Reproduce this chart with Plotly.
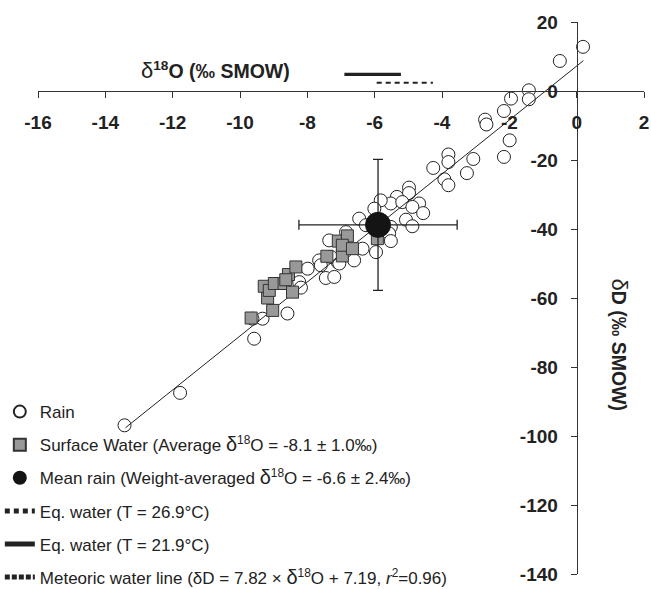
import plotly.graph_objects as go

# ---------------- data ----------------
rain_x = [0.19, -0.50, -1.42, -1.42, -1.95, -2.16, -2.72, -2.68, -1.99, -2.16,
          -3.07, -3.81, -3.81, -4.26, -3.26, -3.93, -3.81, -4.98, -4.98, -5.34,
          -5.52, -5.82, -5.18, -4.68, -4.88, -4.56, -5.07, -4.88, -6.01, -6.46,
          -6.26, -5.52, -5.57, -5.52, -5.96, -6.36, -6.61, -6.85, -7.10, -7.30,
          -7.65, -7.60, -7.45, -7.20, -7.99, -8.24, -8.19, -8.59, -9.33, -9.63,
          -9.58, -11.78, -13.43, -7.35, -7.05]
rain_y = [12.8, 8.7, 0.2, -2.4, -2.2, -5.8, -8.3, -9.7, -14.3, -19.1,
          -19.7, -18.4, -20.6, -22.3, -23.8, -25.6, -27.3, -28.0, -29.6, -30.7,
          -32.6, -31.7, -32.2, -32.6, -33.6, -35.4, -37.3, -39.2, -34.1, -37.0,
          -38.9, -39.4, -41.3, -43.5, -46.7, -45.7, -49.1, -40.9, -49.6, -48.1,
          -49.1, -50.5, -54.2, -53.9, -51.5, -55.4, -57.0, -64.5, -66.0, -66.0,
          -71.8, -87.5, -96.9, -43.3, -50.0]

surf_x = [-9.67, -9.03, -9.18, -9.28, -9.13, -8.98, -8.69, -8.44, -8.56, -8.34,
          -8.64, -7.42, -6.96, -7.08, -6.81, -6.96, -6.66, -5.92]
surf_y = [-65.8, -63.6, -60.0, -56.6, -57.8, -55.8, -55.8, -58.3, -53.2, -51.0,
          -54.7, -47.9, -47.8, -43.5, -42.0, -44.7, -45.7, -42.8]

mean_x = [-5.9]
mean_y = [-38.8]
mean_err_x = [2.35]
mean_err_y = [19.0]

mwl_x = [-13.4, 0.2]
mwl_y = [-97.6, 8.8]

eq269_x = [-5.94, -4.27]
eq269_y = [2.4, 2.4]
eq219_x = [-6.9, -5.22]
eq219_y = [4.8, 4.8]

x_ticks = [-16, -14, -12, -10, -8, -6, -4, -2, 0, 2]
y_ticks = [-140, -120, -100, -80, -60, -40, -20, 0, 20]

D = "<span style=\"font-size:20px\">δ</span>"
names = {
    "rain": "Rain",
    "surf": "Surface Water (Average " + D + "<sup>18</sup>O = -8.1 ± 1.0‰)",
    "mean": "Mean rain (Weight-averaged " + D + "<sup>18</sup>O = -6.6 ± 2.4‰)",
    "eq269": "Eq. water (T = 26.9°C)",
    "eq219": "Eq. water (T = 21.9°C)",
    "mwl": "Meteoric water line (δD = 7.82 × " + D + "<sup>18</sup>O + 7.19, <i>r</i><sup>2</sup>=0.96)",
}

FONT = "Liberation Sans, Arial, sans-serif"
INK = "#222222"

fig = go.Figure()

fig.add_trace(go.Scatter(
    x=rain_x, y=rain_y, mode="markers", name=names["rain"], legendrank=1,
    legendgroup="a",
    marker=dict(symbol="circle", size=13, color="white",
                line=dict(color=INK, width=1))))

fig.add_trace(go.Scatter(
    x=mwl_x, y=mwl_y, mode="lines", showlegend=False,
    line=dict(color=INK, width=1)))

fig.add_trace(go.Scatter(
    x=surf_x, y=surf_y, mode="markers", name=names["surf"], legendrank=2,
    legendgroup="b",
    marker=dict(symbol="square", size=12, color="#999999",
                line=dict(color="#333333", width=1))))

fig.add_trace(go.Scatter(
    x=mean_x, y=mean_y, mode="markers", showlegend=False,
    marker=dict(size=1, color="rgba(0,0,0,0)"),
    error_x=dict(type="data", array=mean_err_x, color=INK, thickness=1.3, width=5),
    error_y=dict(type="data", array=mean_err_y, color=INK, thickness=1.3, width=5)))

fig.add_trace(go.Scatter(
    x=mean_x, y=mean_y, mode="markers", name=names["mean"], legendrank=3,
    legendgroup="c",
    marker=dict(symbol="circle", size=25, color="#141414",
                line=dict(color="#141414", width=1))))

fig.add_trace(go.Scatter(
    x=eq269_x, y=eq269_y, mode="lines", name=names["eq269"], legendrank=4,
    legendgroup="d",
    line=dict(color=INK, width=2, dash="5px,4px")))

fig.add_trace(go.Scatter(
    x=eq219_x, y=eq219_y, mode="lines", name=names["eq219"], legendrank=5,
    legendgroup="e",
    line=dict(color=INK, width=3.2)))

fig.add_trace(go.Scatter(
    x=[None], y=[None], mode="lines", name=names["mwl"], legendrank=6,
    legendgroup="f",
    line=dict(color=INK, width=1, dash="5px,2px")))

xr = [-16, 2]
yr = [-140, 20]

axis_common = dict(
    showgrid=False, zeroline=False, showline=True, linecolor="#333333",
    linewidth=1, ticks="outside", ticklen=6, tickwidth=1, tickcolor="#333333",
    tickfont=dict(family=FONT, size=19, color=INK, weight="bold"),
    automargin=False, anchor="free",
)

fig.update_layout(
    width=651, height=589,
    margin=dict(l=38, r=7, t=22, b=15, autoexpand=False),
    plot_bgcolor="white", paper_bgcolor="white",
    xaxis=dict(range=xr, tickvals=x_ticks, ticktext=[str(v) for v in x_ticks],
               side="bottom", position=(0 - yr[0]) / (yr[1] - yr[0]),
               ticklabelstandoff=8, **axis_common),
    yaxis=dict(range=yr, tickvals=y_ticks, ticktext=[str(v) for v in y_ticks],
               side="left", position=(0 - xr[0]) / (xr[1] - xr[0]),
               ticklabelstandoff=9, **axis_common),
    showlegend=True,
    legend=dict(x=-0.063, y=0.326, xanchor="left", yanchor="top",
                bgcolor="rgba(0,0,0,0)", tracegroupgap=8,
                itemsizing="constant",
                font=dict(family=FONT, size=17, color=INK)),
    font=dict(family=FONT, color=INK),
)

title_font = dict(family=FONT, size=19.5, color=INK, weight="bold")
fig.add_annotation(
    x=-10.74, y=6.0, xref="x", yref="y", showarrow=False,
    text="<span style=\"font-weight:normal;font-size:22px\">δ</span><sup>18</sup>O (‰ SMOW)",
    font=title_font, xanchor="center", yanchor="middle")
fig.add_annotation(
    x=1.26, y=-73.5, xref="x", yref="y", showarrow=False, textangle=90,
    text="<span style=\"font-weight:normal;font-size:22px\">δ</span>D (‰ SMOW)",
    font=title_font, xanchor="center", yanchor="middle")

fig.write_html("out.html")
